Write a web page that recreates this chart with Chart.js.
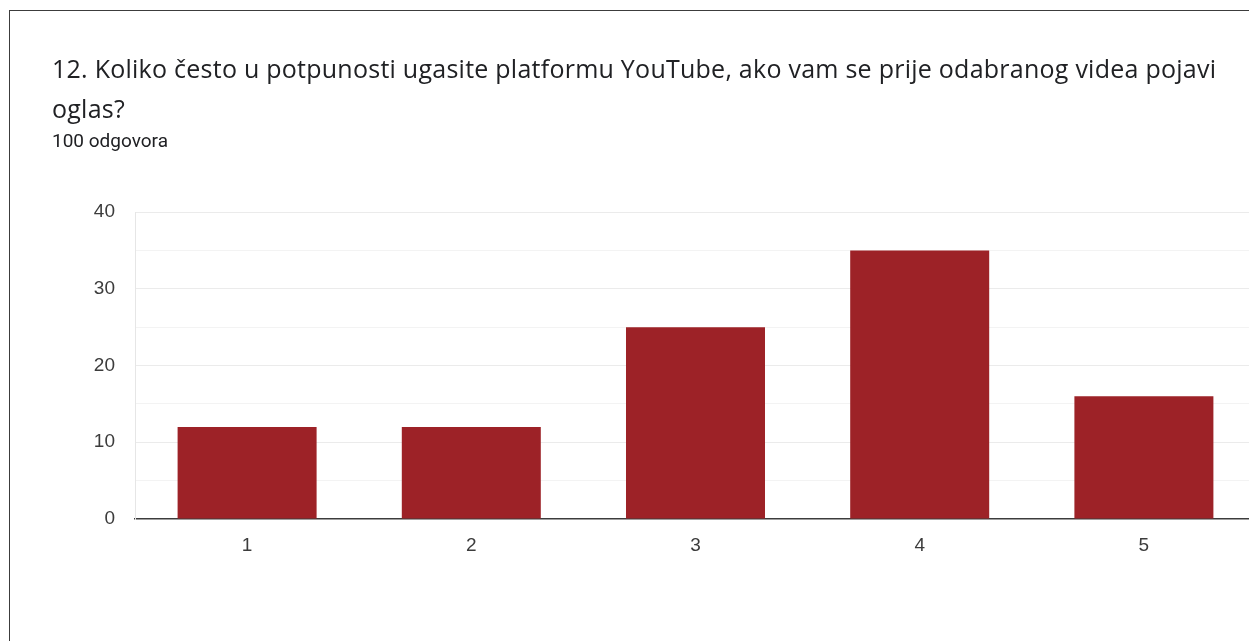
<!DOCTYPE html>
<html>
<head>
<meta charset="utf-8">
<script src="https://cdn.jsdelivr.net/npm/chart.js@4"></script>
<style>
  html, body { margin: 0; padding: 0; background: #fff; overflow: hidden; }
  #wrap { position: relative; width: 1249px; height: 641px; overflow: hidden; }
  #frame { position: absolute; left: 9px; top: 10px; width: 1400px; height: 800px;
           border-left: 1px solid #3c3c3c; border-top: 1px solid #3c3c3c; pointer-events: none; }
  #title { position: absolute; left: 52px; top: 48px; font-family: "Open Sans", Roboto, sans-serif;
           font-size: 25px; letter-spacing: 0.25px; line-height: 40px; color: #202124; white-space: nowrap; }
  #sub { position: absolute; left: 52px; top: 130px; font-family: Roboto, "Noto Sans", sans-serif;
         font-size: 19px; line-height: 22px; color: #202124; }
  #myChart { position: absolute; left: 0; top: 0; }
</style>
</head>
<body>
<div id="wrap">
  <canvas id="myChart" width="1270" height="641"></canvas>
  <div id="title">12. Koliko često u potpunosti ugasite platformu YouTube, ako vam se prije odabranog videa pojavi<br>oglas?</div>
  <div id="sub">100 odgovora</div>
  <div id="frame"></div>
</div>
<script>
const xlabels = ['1', '2', '3', '4', '5']
const yData = [12, 12, 25, 35, 16]
const yTicks = [0, 10, 20, 30, 40]

const ctx = document.getElementById('myChart')

new Chart(ctx, {
  type: 'bar',
  data: {
    labels: xlabels,
    datasets: [{
      label: 'odgovora',
      data: yData,
      backgroundColor: '#9d2227',
      borderWidth: 0,
      categoryPercentage: 1,
      barPercentage: 0.62
    }]
  },
  options: {
    responsive: false,
    animation: false,
    layout: { padding: { top: 212, right: 14, bottom: 0, left: 0 } },
    plugins: { legend: { display: false }, tooltip: { enabled: false } },
    scales: {
      x: {
        grid: { display: false },
        border: { color: '#3c3c3c', width: 1.5 },
        ticks: {
          color: '#3c3c3c',
          padding: 7,
          font: { family: '"Liberation Sans", Arial, sans-serif', size: 19 }
        },
        afterFit: (scale) => { scale.height = 122 }
      },
      y: {
        min: 0,
        max: 40,
        grid: {
          drawTicks: false,
          color: (c) => c.tick.value === 0 ? 'rgba(0,0,0,0)' : (c.tick.value % 10 === 0 ? '#ebebeb' : '#f3f3f3')
        },
        border: { color: '#e6e6e6' },
        ticks: {
          stepSize: 5,
          color: '#3c3c3c',
          padding: 20,
          font: { family: '"Liberation Sans", Arial, sans-serif', size: 19 },
          callback: (v) => yTicks.includes(v) ? v : ''
        },
        afterFit: (scale) => { scale.width = 135 }
      }
    }
  }
})
</script>
</body>
</html>
